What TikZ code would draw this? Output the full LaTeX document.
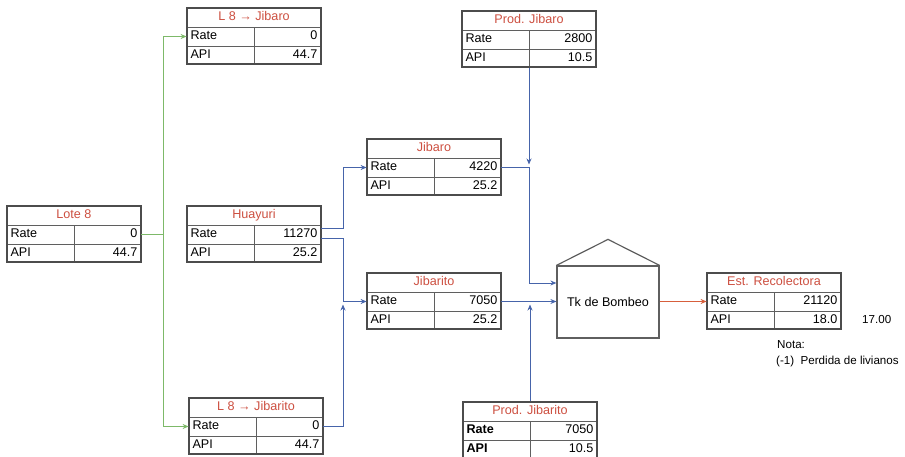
\documentclass[tikz,border=0pt]{standalone}
\usepackage{fontspec}
\setmainfont{Liberation Sans}
\usetikzlibrary{arrows.meta,calc}
\definecolor{tgreen}{RGB}{125,185,105}
\definecolor{tblue}{RGB}{70,100,170}
\definecolor{tred}{RGB}{215,95,60}
\definecolor{ttitle}{RGB}{205,80,65}
\definecolor{cellgray}{RGB}{95,95,95}
\tikzset{
  cell/.style={draw=cellgray, line width=0.8pt, inner xsep=3.5pt, inner ysep=0pt,
    text height=9.2pt, text depth=2.4pt, font=\fontsize{12.6}{14}\selectfont},
  lcell/.style={cell, text width=60pt, align=left},
  vcell/.style={cell, text width=60pt, align=right},
  titlecell/.style={cell, minimum width=134pt, minimum height=19pt, text=ttitle},
  outerbox/.style={draw=cellgray!80!black, line width=1.4pt, minimum width=134pt, minimum height=56pt, inner sep=0pt},
  flow/.style={line width=1pt, -{Stealth[length=6pt,width=5pt]}},
  seg/.style={line width=1pt},
  note/.style={font=\fontsize{11.6}{14}\selectfont, inner sep=0pt, anchor=west}
}
% #1 name, #2 left, #3 top, #4 title, #5 rate value, #6 api value, #7 label font
\newcommand\mytable[7]{%
  \node[titlecell] (#1-t) at (#2+67,#3+9.5) {#4};
  \node[lcell, minimum height=19pt] (#1-rl) at (#2+33.5,#3+28.5) {#7Rate};
  \node[vcell, minimum height=19pt] (#1-rv) at (#2+100.5,#3+28.5) {#5};
  \node[lcell, minimum height=18pt] (#1-al) at (#2+33.5,#3+47) {#7API};
  \node[vcell, minimum height=18pt] (#1-av) at (#2+100.5,#3+47) {#6};
  \node[outerbox] (#1) at (#2+67,#3+28) {};
}
\begin{document}
\begin{tikzpicture}[x=1pt,y=-1pt]
\fill[white] (0,0) rectangle (905,457);
\useasboundingbox (0,0) rectangle (905,457);

\mytable{lote}{7}{206}{Lote 8}{0}{44.7}{}
\mytable{lj}{187}{8}{L 8 → Jibaro}{0}{44.7}{}
\mytable{hua}{187}{206}{Huayuri}{11270}{25.2}{}
\mytable{jib}{367}{139}{Jibaro}{4220}{25.2}{}
\mytable{jito}{367}{273}{Jibarito}{7050}{25.2}{}
\mytable{pj}{462}{11}{Prod. Jibaro}{2800}{10.5}{}
\mytable{pjito}{463}{402}{Prod. Jibarito}{7050}{10.5}{\bfseries}
\mytable{ljito}{189}{398}{L 8 → Jibarito}{0}{44.7}{}
\mytable{est}{707}{273}{Est. Recolectora}{21120}{18.0}{}

% tank
\node[draw=cellgray, line width=1.2pt, minimum width=102pt, minimum height=72pt,
      font=\fontsize{12.6}{14}\selectfont] (tk) at (608,302) {Tk de Bombeo};
\draw[draw=cellgray, line width=1.2pt, line join=miter] (tk.north west) -- ($(tk.north)+(0,-26)$) -- (tk.north east);

% green connectors
\coordinate (gx) at (163,0);
\draw[seg, tgreen] (lote-rv.east) -- (gx |- lote-rv.east);
\draw[flow, tgreen] (gx |- lote-rv.east) |- (lj-rl.west);
\draw[flow, tgreen] (gx |- lote-rv.east) |- (ljito-rl.west);

% blue connectors
\coordinate (bx) at (343,0);
\draw[flow, tblue] ([yshift=5.5pt]hua-rv.east) -| (bx |- jib-rl.west) -- (jib-rl.west);
\draw[flow, tblue] ([yshift=-4.5pt]hua-rv.east) -| (bx |- jito-rl.west) -- (jito-rl.west);
\draw[flow, tblue] (ljito-rv.east) -| ([yshift=-3pt]bx |- jito-rl.west);

\draw[seg, tblue] (jib-rv.east) -- (pj.south |- jib-rv.east);
\draw[flow, tblue] (pj.south) -- ([yshift=3pt]pj.south |- jib-rv.east);
\draw[flow, tblue] (pj.south |- jib-rv.east) |- ([yshift=19pt]tk.west);
\draw[flow, tblue] (jito-rv.east) -- (tk.west |- jito-rv.east);
\draw[flow, tblue] (pjito.north) -- ([yshift=-3pt]pjito.north |- jito-rv.east);

% red connector
\draw[flow, tred] (tk.east |- est-rl.west) -- (est-rl.west);

% notes
\node[note] (n17) at (862,320) {17.00};
\node[note] (nota) at (777,345) {Nota:};
\node[note] (nota2) at (776,361) {(-1)\ \ Perdida de livianos};
\end{tikzpicture}
\end{document}
